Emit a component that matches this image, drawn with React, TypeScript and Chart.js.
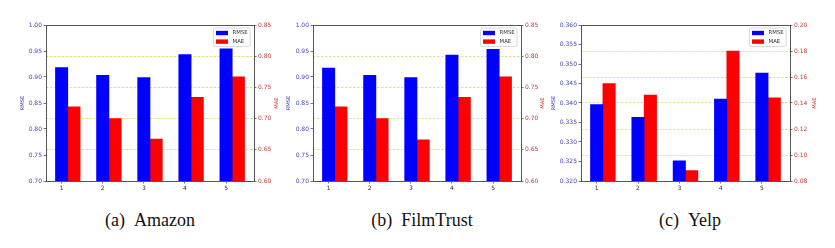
import React, { useEffect, useRef } from 'react';
import { Chart, registerables } from 'chart.js';

Chart.register(...registerables);

// ---------------- data ----------------
const CATEGORIES = [1, 2, 3, 4, 5];
const SERIES_NAMES = ['RMSE', 'MAE'];

const AMAZON_RMSE = [0.918, 0.903, 0.899, 0.943, 0.954];
const AMAZON_MAE = [0.719, 0.700, 0.667, 0.734, 0.767];

const FILMTRUST_RMSE = [0.917, 0.903, 0.899, 0.942, 0.953];
const FILMTRUST_MAE = [0.719, 0.700, 0.666, 0.734, 0.767];

const YELP_RMSE = [0.3396, 0.3363, 0.3252, 0.3410, 0.3477];
const YELP_MAE = [0.155, 0.146, 0.088, 0.180, 0.144];

const AB_RMSE_TICKS = [0.70, 0.75, 0.80, 0.85, 0.90, 0.95, 1.00];
const AB_MAE_TICKS = [0.60, 0.65, 0.70, 0.75, 0.80, 0.85];
const YELP_RMSE_TICKS = [0.320, 0.325, 0.330, 0.335, 0.340, 0.345, 0.350, 0.355, 0.360];
const YELP_MAE_TICKS = [0.08, 0.10, 0.12, 0.14, 0.16, 0.18, 0.20];

const CAPTIONS = ['(a)\u00a0\u00a0Amazon', '(b)\u00a0\u00a0FilmTrust', '(c)\u00a0\u00a0Yelp'];

const BAR_WIDTH = 0.3;

// ---------------- styles ----------------
const FONT = "'DejaVu Sans', sans-serif";
const BLUE = '#0000ff';
const RED = '#ff0000';
const SPINE = '#555555';
const RIGHT_TITLE_COLOR = '#cc3333';

const frameLegendPlugin = {
  id: 'frameLegend',
  afterDatasetsDraw(chart: any) {
    const { ctx, chartArea: a } = chart;
    ctx.save();
    ctx.setLineDash([]);
    ctx.strokeStyle = SPINE;
    ctx.lineWidth = 1;
    ctx.strokeRect(
      Math.round(a.left) + 0.5,
      Math.round(a.top) + 0.5,
      Math.round(a.right) - Math.round(a.left),
      Math.round(a.bottom) - Math.round(a.top)
    );
    // legend box (upper right, inside plot)
    const bw = 36.5;
    const bh = 18.5;
    const bx = a.right - 4 - bw;
    const by = a.top + 3;
    ctx.beginPath();
    const r = 1.5;
    ctx.moveTo(bx + r, by);
    ctx.lineTo(bx + bw - r, by);
    ctx.quadraticCurveTo(bx + bw, by, bx + bw, by + r);
    ctx.lineTo(bx + bw, by + bh - r);
    ctx.quadraticCurveTo(bx + bw, by + bh, bx + bw - r, by + bh);
    ctx.lineTo(bx + r, by + bh);
    ctx.quadraticCurveTo(bx, by + bh, bx, by + bh - r);
    ctx.lineTo(bx, by + r);
    ctx.quadraticCurveTo(bx, by, bx + r, by);
    ctx.closePath();
    ctx.fillStyle = 'rgba(255,255,255,0.85)';
    ctx.fill();
    ctx.strokeStyle = '#d0d0d0';
    ctx.lineWidth = 0.8;
    ctx.stroke();
    chart.data.datasets.forEach((d: any, i: number) => {
      const cy = by + 5 + i * 8.6;
      ctx.fillStyle = d.backgroundColor;
      ctx.fillRect(bx + 2.5, cy - 2.2, 12, 4.4);
      ctx.fillStyle = '#333333';
      ctx.font = `5.4px ${FONT}`;
      ctx.textBaseline = 'middle';
      ctx.textAlign = 'left';
      ctx.fillText(d.label, bx + 19, cy);
    });
    // right axis title, rotated bottom-to-top like matplotlib
    const s = chart.scales.y2;
    ctx.translate(s.right - 7.5, (a.top + a.bottom) / 2);
    ctx.rotate(-Math.PI / 2);
    ctx.fillStyle = RIGHT_TITLE_COLOR;
    ctx.font = `5.2px ${FONT}`;
    ctx.textAlign = 'center';
    ctx.textBaseline = 'middle';
    ctx.fillText(SERIES_NAMES[1], 0, 0);
    ctx.restore();
  },
};

type PanelProps = {
  plotLeft: number;
  plotRight: number;
  leftAxisW: number;
  rightAxisW: number;
  rmse: number[];
  mae: number[];
  rmseTicks: number[];
  maeTicks: number[];
  rmseDigits: number;
  maeDigits: number;
};

const EXTRA_LEFT = 46;
const EXTRA_RIGHT = 34;
const CANVAS_H = 200;
const PLOT_TOP = 25;
const PLOT_BOTTOM = 181;

function Panel(p: PanelProps) {
  const ref = useRef<HTMLCanvasElement | null>(null);
  const canvasW = p.plotRight - p.plotLeft + EXTRA_LEFT + EXTRA_RIGHT;

  useEffect(() => {
    if (!ref.current) return;
    const dataMin = CATEGORIES[0] - BAR_WIDTH / 2;
    const dataMax = CATEGORIES[CATEGORIES.length - 1] + BAR_WIDTH + BAR_WIDTH / 2;
    const margin = (dataMax - dataMin) * 0.05;
    const tickFont = { family: FONT, size: 6 };
    const titleFont = { family: FONT, size: 5.2 };

    const chart = new Chart(ref.current, {
      type: 'bar',
      data: {
        datasets: [
          {
            label: SERIES_NAMES[0],
            data: CATEGORIES.map((c, i) => ({ x: c, y: p.rmse[i] })),
            backgroundColor: BLUE,
            yAxisID: 'y',
            grouped: false,
            barPercentage: 1,
            categoryPercentage: 1,
          },
          {
            label: SERIES_NAMES[1],
            data: CATEGORIES.map((c, i) => ({ x: c + BAR_WIDTH, y: p.mae[i] })),
            backgroundColor: RED,
            yAxisID: 'y2',
            grouped: false,
            barPercentage: 1,
            categoryPercentage: 1,
          },
        ],
      } as any,
      options: {
        responsive: false,
        animation: false,
        events: [],
        layout: {
          padding: {
            left: EXTRA_LEFT - p.leftAxisW,
            right: EXTRA_RIGHT - p.rightAxisW,
            top: PLOT_TOP,
            bottom: 0,
          },
        },
        plugins: {
          legend: { display: false },
          tooltip: { enabled: false },
        },
        scales: {
          x: {
            type: 'linear',
            offset: false,
            min: dataMin - margin,
            max: dataMax + margin,
            afterBuildTicks: (s: any) => {
              s.ticks = CATEGORIES.map((v) => ({ value: v }));
            },
            afterFit: (s: any) => {
              s.height = CANVAS_H - PLOT_BOTTOM;
            },
            ticks: {
              autoSkip: false,
              maxRotation: 0,
              font: tickFont,
              color: '#333333',
              padding: 1.5,
              callback: (v: any) => String(v),
            },
            grid: {
              offset: false,
              drawOnChartArea: false,
              drawTicks: true,
              tickLength: 2.5,
              tickColor: SPINE,
              tickWidth: 0.8,
            },
            border: { display: false },
          },
          y: {
            type: 'linear',
            position: 'left',
            min: p.rmseTicks[0],
            max: p.rmseTicks[p.rmseTicks.length - 1],
            afterBuildTicks: (s: any) => {
              s.ticks = p.rmseTicks.map((v) => ({ value: v }));
            },
            afterFit: (s: any) => {
              s.width = p.leftAxisW;
            },
            ticks: {
              font: tickFont,
              color: '#4444bb',
              padding: 1.5,
              callback: (v: any) => Number(v).toFixed(p.rmseDigits),
            },
            grid: {
              drawOnChartArea: false,
              drawTicks: true,
              tickLength: 2.5,
              tickColor: SPINE,
              tickWidth: 0.8,
            },
            border: { display: false },
            title: {
              display: true,
              text: SERIES_NAMES[0],
              color: '#3333bb',
              font: titleFont,
              padding: { top: 4, bottom: 4 },
            },
          },
          y2: {
            type: 'linear',
            position: 'right',
            min: p.maeTicks[0],
            max: p.maeTicks[p.maeTicks.length - 1],
            afterBuildTicks: (s: any) => {
              s.ticks = p.maeTicks.map((v) => ({ value: v }));
            },
            afterFit: (s: any) => {
              s.width = p.rightAxisW;
            },
            ticks: {
              font: tickFont,
              color: '#c04040',
              padding: 1.5,
              callback: (v: any) => Number(v).toFixed(p.maeDigits),
            },
            grid: {
              drawOnChartArea: true,
              drawTicks: true,
              tickLength: 2.5,
              tickColor: SPINE,
              tickWidth: 0.8,
              color: 'rgba(205,205,60,0.85)',
              lineWidth: 0.7,
            },
            border: { display: false, dash: [2.5, 1.5] },
            title: { display: false },
          },
        },
      } as any,
      plugins: [frameLegendPlugin],
    });
    return () => chart.destroy();
  }, []);

  return (
    <canvas
      ref={ref}
      width={canvasW}
      height={CANVAS_H}
      style={{
        position: 'absolute',
        left: p.plotLeft - EXTRA_LEFT,
        top: 0,
        width: canvasW,
        height: CANVAS_H,
      }}
    />
  );
}

const captionStyle = (cx: number): React.CSSProperties => ({
  position: 'absolute',
  left: cx - 100,
  width: 200,
  top: 210,
  textAlign: 'center',
  fontFamily: "'Liberation Serif', 'Times New Roman', serif",
  fontSize: 18,
  lineHeight: '20px',
  color: '#111',
  whiteSpace: 'nowrap',
});

export default function App() {
  return (
    <div
      style={{
        position: 'fixed',
        left: 0,
        top: 0,
        width: 835,
        height: 248,
        background: '#ffffff',
        overflow: 'hidden',
      }}
    >
      <Panel
        plotLeft={46}
        plotRight={254}
        leftAxisW={30}
        rightAxisW={30}
        rmse={AMAZON_RMSE}
        mae={AMAZON_MAE}
        rmseTicks={AB_RMSE_TICKS}
        maeTicks={AB_MAE_TICKS}
        rmseDigits={2}
        maeDigits={2}
      />
      <Panel
        plotLeft={313}
        plotRight={521}
        leftAxisW={31}
        rightAxisW={29}
        rmse={FILMTRUST_RMSE}
        mae={FILMTRUST_MAE}
        rmseTicks={AB_RMSE_TICKS}
        maeTicks={AB_MAE_TICKS}
        rmseDigits={2}
        maeDigits={2}
      />
      <Panel
        plotLeft={581}
        plotRight={790}
        leftAxisW={34}
        rightAxisW={32}
        rmse={YELP_RMSE}
        mae={YELP_MAE}
        rmseTicks={YELP_RMSE_TICKS}
        maeTicks={YELP_MAE_TICKS}
        rmseDigits={3}
        maeDigits={2}
      />
      <div style={captionStyle(150)}>{CAPTIONS[0]}</div>
      <div style={captionStyle(422)}>{CAPTIONS[1]}</div>
      <div style={captionStyle(690)}>{CAPTIONS[2]}</div>
    </div>
  );
}
